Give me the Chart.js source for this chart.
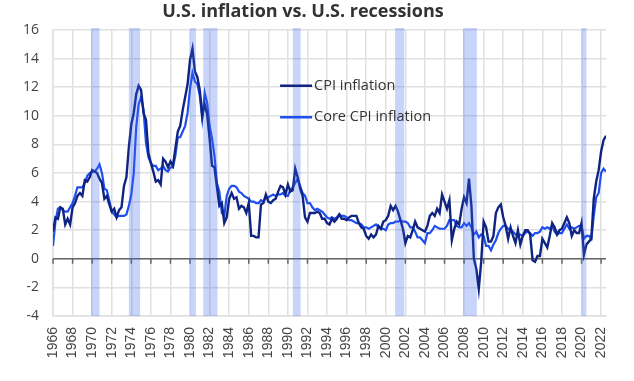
<!DOCTYPE html>
<html><head><meta charset="utf-8">
<script src="https://cdn.jsdelivr.net/npm/chart.js@4.4.0/dist/chart.umd.min.js"></script>
<style>html,body{margin:0;padding:0;background:#fff}#wrap{width:634px;height:381px}</style>
</head><body><div id="wrap"><canvas id="c" width="634" height="381"></canvas></div>
<script>
const chartTitle = "U.S. inflation vs. U.S. recessions";
const seriesLabels = ["CPI inflation", "Core CPI inflation"];
const startYear = 1966;
const stepYears = 0.25; // quarterly readings
const xMin = 1966, xMax = 2022.5, xTickStep = 2;
const yMin = -4, yMax = 16, yTickStep = 2;

const cpiInflation = [
 1.9,2.9,2.8,3.6, 3.5,2.4,2.8,2.4, 3.6,3.9,4.4,4.6, 4.4,5.5,5.4,5.7,
 6.2,6.1,6.0,5.6, 5.3,4.2,4.4,3.8, 3.3,3.5,2.9,3.4, 3.6,5.1,5.7,7.8,
 9.4,10.2,11.5,12.1, 11.8,10.2,9.7,7.4, 6.7,6.1,5.4,5.5, 5.2,7.0,6.8,6.4,
 6.8,6.5,7.7,8.9, 9.3,10.4,11.3,12.2, 13.9,14.7,13.1,12.7, 11.8,10.0,10.8,10.1,
 8.4,6.5,6.4,5.0, 3.7,3.9,2.5,2.9, 4.2,4.6,4.2,4.3, 3.5,3.7,3.6,3.2,
 3.9,1.6,1.6,1.5, 1.5,3.8,3.9,4.5, 4.0,3.9,4.1,4.2, 4.7,5.1,5.0,4.5,
 5.2,4.7,4.8,6.3, 5.7,4.9,4.4,2.9, 2.6,3.2,3.2,3.2, 3.3,3.2,2.8,2.8,
 2.5,2.4,2.8,2.6, 2.8,3.1,2.8,2.8, 2.7,2.9,3.0,3.0, 3.0,2.5,2.2,2.1,
 1.6,1.4,1.7,1.5, 1.7,2.3,2.1,2.6, 2.7,3.0,3.7,3.4, 3.7,3.3,2.7,2.1,
 1.1,1.6,1.5,2.0, 2.6,2.2,2.1,2.0, 1.9,2.3,3.0,3.2, 3.0,3.5,3.2,4.5,
 4.0,3.5,4.1,1.3, 2.1,2.6,2.4,3.5, 4.3,3.9,5.6,3.7, 0.0,-0.7,-2.1,-0.2,
 2.6,2.2,1.2,1.2, 1.6,3.2,3.6,3.8, 2.9,2.3,1.4,2.2, 1.6,1.1,2.0,1.0,
 1.6,2.0,2.0,1.7, -0.1,-0.2,0.2,0.2, 1.4,1.1,0.8,1.6, 2.5,2.2,1.7,2.0,
 2.1,2.5,2.9,2.5, 1.6,2.0,1.8,1.8, 2.5,0.3,1.0,1.2, 1.4,4.2,5.4,6.2,
 7.5,8.3,8.6
];

const coreCpiInflation = [
 0.9,2.6,3.5,3.6, 3.4,3.3,3.3,3.6, 3.9,4.4,5.0,5.0, 5.0,5.3,5.8,6.0,
 6.1,6.1,6.3,6.6, 6.0,4.9,4.8,4.1, 3.3,3.1,2.9,3.0, 3.0,3.0,3.1,3.7,
 4.5,6.0,9.2,10.8, 11.3,10.4,8.1,7.1, 6.7,6.5,6.5,6.2, 6.3,6.5,6.2,6.1,
 6.4,6.4,7.2,8.5, 8.5,8.9,9.3,10.2, 11.9,13.0,12.4,12.2, 11.4,9.8,11.6,10.9,
 9.3,8.4,7.2,5.3, 4.7,3.2,3.0,4.4, 4.9,5.1,5.1,5.0, 4.7,4.6,4.4,4.3,
 4.2,4.0,4.0,3.9, 3.9,4.1,4.0,4.3, 4.3,4.4,4.5,4.4, 4.5,4.5,4.6,4.4,
 4.4,4.8,5.0,5.3, 5.6,5.1,4.6,4.4, 3.9,3.9,3.6,3.4, 3.5,3.4,3.3,3.1,
 2.9,2.8,2.9,2.8, 2.9,3.1,3.0,3.0, 2.9,2.7,2.7,2.6, 2.5,2.5,2.4,2.2,
 2.2,2.1,2.2,2.3, 2.4,2.2,2.1,2.1, 2.0,2.4,2.5,2.5, 2.6,2.6,2.7,2.6,
 2.6,2.5,2.2,2.2, 1.9,1.5,1.5,1.3, 1.1,1.8,1.8,2.0, 2.3,2.2,2.1,2.1,
 2.1,2.3,2.7,2.7, 2.7,2.3,2.2,2.2, 2.5,2.3,2.5,2.2, 1.7,1.9,1.5,1.7,
 1.6,0.9,0.9,0.6, 1.0,1.3,1.8,2.1, 2.3,2.3,2.1,2.0, 1.9,1.7,1.7,1.7,
 1.6,1.8,1.9,1.8, 1.6,1.8,1.8,1.9, 2.2,2.1,2.2,2.1, 2.3,1.9,1.7,1.8,
 1.8,2.1,2.4,2.1, 2.2,2.1,2.2,2.3, 2.3,1.4,1.6,1.6, 1.4,3.0,4.3,4.6,
 6.0,6.3,6.1
];

const recessionStarts = [1969.9, 1973.75, 1980.0, 1981.35, 1990.5, 2000.95, 2007.9, 2020.0];
const recessionEnds   = [1970.75, 1974.9, 1980.6, 1982.8, 1991.3, 2001.9, 2009.3, 2020.5];

const toPoints = arr => arr.map((v, i) => ({ x: startYear + i * stepYears, y: v }));

const recessionPlugin = {
  id: 'recessions',
  afterDatasetsDraw(chart) {
    const { ctx, chartArea, scales } = chart;
    ctx.save();
    ctx.fillStyle = 'rgba(60,100,240,0.28)';
    for (let i = 0; i < recessionStarts.length; i++) {
      const x1 = scales.x.getPixelForValue(recessionStarts[i]);
      const x2 = scales.x.getPixelForValue(recessionEnds[i]);
      ctx.fillRect(x1, chartArea.top - 2, x2 - x1, chartArea.bottom - chartArea.top + 2);
    }
    ctx.restore();
  }
};

const zeroLinePlugin = {
  id: 'zeroLine',
  beforeDatasetsDraw(chart) {
    const { ctx, chartArea, scales } = chart;
    const y0 = scales.y.getPixelForValue(0);
    ctx.save();
    ctx.strokeStyle = '#666';
    ctx.lineWidth = 1.5;
    ctx.beginPath();
    ctx.moveTo(chartArea.left, y0);
    ctx.lineTo(chartArea.right, y0);
    scales.x.ticks.forEach(t => {
      const x = scales.x.getPixelForValue(t.value);
      ctx.moveTo(x, y0);
      ctx.lineTo(x, y0 + 5);
    });
    ctx.stroke();
    ctx.restore();
  }
};

const legendPlugin = {
  id: 'innerLegend',
  afterDraw(chart) {
    const { ctx, scales } = chart;
    const x0 = scales.x.getPixelForValue(1989.2);
    const rows = [scales.y.getPixelForValue(12.1), scales.y.getPixelForValue(9.9)];
    ctx.save();
    ctx.font = '14.5px "Open Sans"';
    ctx.textBaseline = 'middle';
    ctx.textAlign = 'left';
    chart.data.datasets.forEach((ds, i) => {
      ctx.strokeStyle = ds.borderColor;
      ctx.lineWidth = 2.5;
      ctx.beginPath();
      ctx.moveTo(x0, rows[i]);
      ctx.lineTo(x0 + 32, rows[i]);
      ctx.stroke();
      ctx.fillStyle = '#333';
      ctx.fillText(ds.label, x0 + 34, rows[i]);
    });
    ctx.restore();
  }
};

new Chart(document.getElementById('c'), {
  type: 'line',
  data: {
    datasets: [
      { label: seriesLabels[0], data: toPoints(cpiInflation), borderColor: '#0f2380', borderWidth: 2.4, pointRadius: 0, tension: 0 },
      { label: seriesLabels[1], data: toPoints(coreCpiInflation), borderColor: '#1f4ef0', borderWidth: 2.2, pointRadius: 0, tension: 0 }
    ]
  },
  options: {
    responsive: false,
    animation: false,
    layout: { padding: { left: 0, right: 28, top: 0, bottom: 0 } },
    plugins: {
      legend: { display: false },
      tooltip: { enabled: false },
      title: {
        display: true, text: chartTitle, color: '#333',
        font: { family: 'Open Sans', size: 18, weight: 'bold' },
        padding: { top: 1, bottom: 7.4 }
      }
    },
    scales: {
      x: {
        type: 'linear', min: xMin, max: xMax,
        afterFit(s) { s.height = 65; },
        grid: { color: '#e0e0e0', lineWidth: 1.5, drawTicks: false },
        border: { color: '#e0e0e0', width: 1.5 },
        ticks: {
          stepSize: xTickStep, includeBounds: false, autoSkip: false,
          minRotation: 90, maxRotation: 90, padding: 11,
          color: '#444', font: { family: 'Liberation Sans', size: 14 },
          callback: v => String(v)
        }
      },
      y: {
        min: yMin, max: yMax,
        afterFit(s) { s.width = 53; },
        grid: { color: '#e0e0e0', lineWidth: 1.5, drawTicks: false },
        border: { color: '#e0e0e0', width: 1.5 },
        ticks: {
          stepSize: yTickStep, padding: 14, color: '#444',
          font: { family: 'Open Sans', size: 14 },
          callback: v => String(v)
        }
      }
    }
  },
  plugins: [zeroLinePlugin, recessionPlugin, legendPlugin]
});
</script>
</body></html>
